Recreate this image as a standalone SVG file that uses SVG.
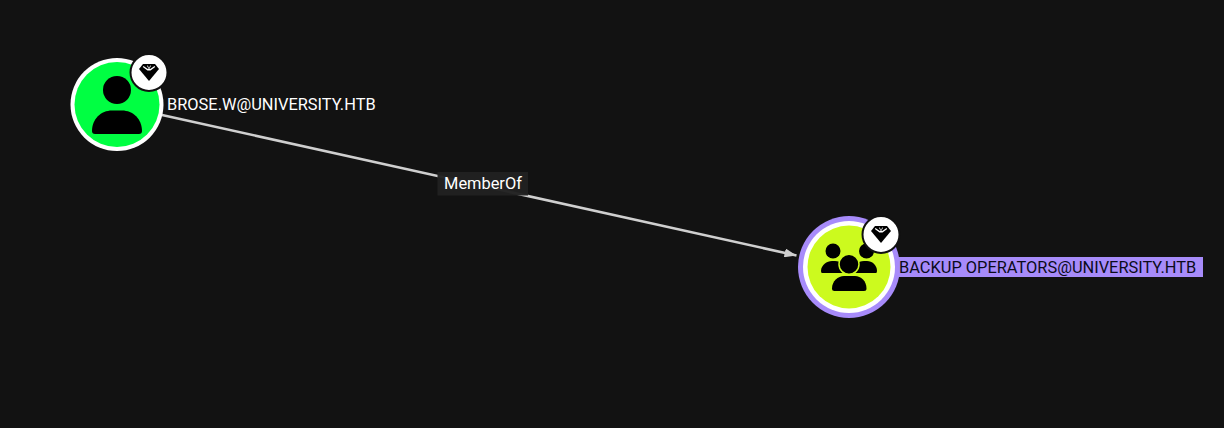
<svg xmlns="http://www.w3.org/2000/svg" width="1224" height="428" viewBox="0 0 1224 428">
<style>
text{font-family:Roboto,"Liberation Sans",sans-serif;font-size:16.4px}
.w{fill:#fff}
.k{fill:#000}
.badge{fill:#fff;stroke:#111;stroke-width:2}
.edge{stroke:#cfcfcf;stroke-width:2.5;fill:none}
</style>
<defs>
<g id="gem">
<path class="k" d="M-6-8.500H6L10-3.500 0 8.500-10-3.500Z"/>
<path fill="#fff" d="M-5.500-6.500-1.200-3.400-.3-3.400-2-6.800-1.200-7 0-4.300 1.200-7 2-6.800 .3-3.400 1.200-3.400 5.500-6.500 6.200-5.500 1.500-2-1.500-2-6.200-5.500Z"/>
</g>
<marker id="arr" viewBox="0 0 12 9" refX="12" refY="4.500" markerWidth="12" markerHeight="9" orient="auto" markerUnits="userSpaceOnUse"><path d="M0 0 12 4.500 0 9Z" fill="#cfcfcf"/></marker>
</defs>
<rect width="1224" height="428" fill="#121212"/>
<g id="connectors">
<line class="edge" x1="162" y1="115" x2="796.500" y2="255.500" marker-end="url(#arr)"/>
<g id="edge-label"><rect x="437.500" y="172" width="90.500" height="23.500" fill="#212121" fill-opacity=".97"/><text class="w" x="483" y="189" text-anchor="middle">MemberOf</text></g>
</g>
<g id="node-user">
<circle cx="117" cy="104.500" r="46.500" fill="#fff"/>
<circle cx="117" cy="104.500" r="42.500" fill="#00ff42"/>
<circle class="k" cx="117" cy="90" r="14"/>
<path class="k" d="M92 131C92 119 101 110.500 112 110.500H122C133 110.500 142 119 142 131Q142 134 139 134H95Q92 134 92 131Z"/>
<circle class="badge" cx="149" cy="72.500" r="18.500"/>
<use href="#gem" x="149" y="72.500"/>
<text class="w" x="167" y="110">BROSE.W@UNIVERSITY.HTB</text>
</g>
<g id="node-group">
<rect x="893" y="257" width="310" height="20" fill="#a78bfa"/>
<circle cx="849" cy="267" r="51" fill="#a78bfa"/>
<circle cx="849" cy="267" r="46" fill="#fff"/>
<circle cx="849" cy="267" r="41.500" fill="#ccfa1e"/>
<circle class="k" cx="833" cy="251" r="7.500"/>
<circle class="k" cx="866.500" cy="251" r="7.500"/>
<path class="k" d="M821 271C821 265 827 261 832 261H835C841 261 845 265 845 273H822Q821 273 821 271Z"/>
<path class="k" d="M853 273C853 265 858 261 864 261H867C872 261 877 265 877 271Q877 273 876 273Z"/>
<circle class="k" cx="849" cy="264.300" r="10" stroke="#ccfa1e" stroke-width="1.500"/>
<path class="k" d="M832 288.500C832 281 838 276 844 276H855C861 276 866.500 281 866.500 288.500Q866.500 291 864 291H834.500Q832 291 832 288.500Z"/>
<circle class="badge" cx="881" cy="234.500" r="18.500"/>
<use href="#gem" x="881" y="234.500"/>
<text x="899" y="273" fill="#0b0b1a">BACKUP OPERATORS@UNIVERSITY.HTB</text>
</g>
</svg>
